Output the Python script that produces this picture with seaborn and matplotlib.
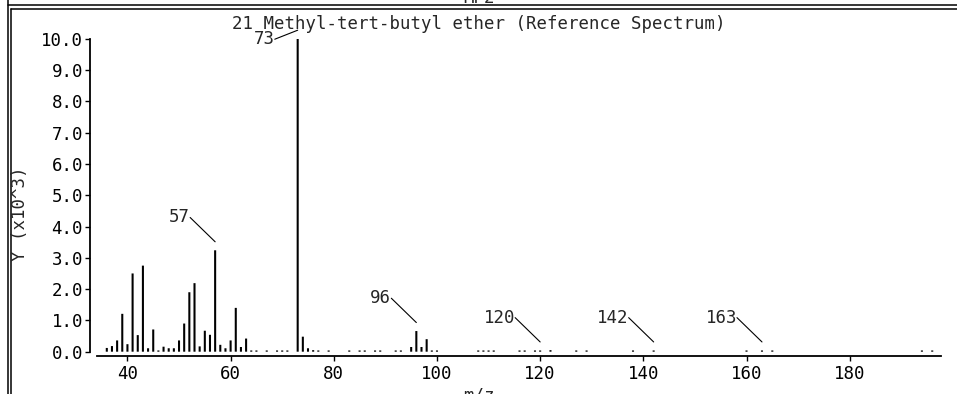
import matplotlib
matplotlib.use('Agg')
import matplotlib.pyplot as plt
import matplotlib.transforms as mtransforms
from matplotlib.lines import Line2D
from matplotlib.ticker import FormatStrFormatter
import pandas as pd
import seaborn as sns

# Spectrum peaks (intensity in units of 10^3)
mz = [36, 37, 38, 39, 40, 41, 42, 43, 44, 45, 46, 47, 48, 49, 50,
      51, 52, 53, 54, 55, 56, 57, 58, 59, 60, 61, 62, 63, 64, 65,
      67, 69, 70, 71, 73, 74, 75, 76, 77, 79, 83, 85, 86, 88, 89,
      92, 93, 95, 96, 97, 98, 99, 100, 108, 109, 110, 111, 116, 117,
      119, 120, 122, 127, 129, 138, 142, 160, 163, 165, 194, 196]
intensity = [0.12, 0.18, 0.36, 1.21, 0.24, 2.50, 0.53, 2.75, 0.11, 0.71,
             0.04, 0.16, 0.11, 0.11, 0.36, 0.90, 1.90, 2.19, 0.17, 0.67,
             0.54, 3.24, 0.22, 0.11, 0.36, 1.40, 0.15, 0.42, 0.04, 0.04,
             0.04, 0.04, 0.04, 0.04, 10.0, 0.48, 0.11, 0.05, 0.04, 0.04,
             0.04, 0.04, 0.04, 0.04, 0.04, 0.04, 0.04, 0.15, 0.66, 0.15,
             0.40, 0.04, 0.04, 0.04, 0.04, 0.04, 0.04, 0.04, 0.04, 0.04,
             0.04, 0.05, 0.04, 0.04, 0.04, 0.04, 0.04, 0.04, 0.04, 0.04,
             0.04]
labelled_peaks = [57, 73, 96, 120, 142, 163]
x_ticks = [40, 60, 80, 100, 120, 140, 160, 180]
y_ticks = [0, 1, 2, 3, 4, 5, 6, 7, 8, 9, 10]
title = "21 Methyl-tert-butyl ether (Reference Spectrum)"
header = "MP2"

W, H = 957, 394

sns.set_theme(style='ticks')
plt.rcParams['font.family'] = ['DejaVu Sans Mono']
plt.rcParams['font.size'] = 12.5

fig = plt.figure(figsize=(W / 100, H / 100), dpi=100)
fig.patch.set_facecolor('white')
ax = fig.add_axes([97 / W, 42.3 / H, 844 / W, 313 / H])
ax.set_facecolor('white')

spec = pd.DataFrame({'mz': mz, 'intensity': intensity})
sns.barplot(data=spec, x='mz', y='intensity', native_scale=True, width=0.4,
            color='black', saturation=1, errorbar=None, linewidth=0, ax=ax)
# no pixel snapping, so all sticks come out the same width
for bar in ax.patches:
    bar.set_snap(False)

ax.set_xlim(34.1, 197.7)
ax.set_ylim(0, 10)
ax.set_xticks(x_ticks)
ax.set_yticks(y_ticks)
ax.yaxis.set_major_formatter(FormatStrFormatter('%.1f'))
ax.set_xlabel('')
ax.set_ylabel('')
ax.grid(False)

sns.despine(ax=ax, offset={'left': 5, 'bottom': 3})
ax.spines['left'].set_bounds(0, 10)
for side in ['left', 'bottom']:
    ax.spines[side].set_linewidth(1.3)
    ax.spines[side].set_color('black')
ax.tick_params(axis='both', direction='out', length=3.5, width=1.0,
               color='black', labelcolor='black', labelsize=12.5)
ax.tick_params(axis='y', pad=1.5)
ax.tick_params(axis='x', pad=3)

# peak labels with leader lines ending a little above the peak top
lift = mtransforms.ScaledTranslation(0, 8.5 / 100, fig.dpi_scale_trans)
for peak in labelled_peaks:
    val = intensity[mz.index(peak)]
    offset = (-16.5, -6.5) if val >= 9.5 else (-18, 17.5)
    ax.annotate(str(peak), xy=(peak, val), xycoords=ax.transData + lift,
                xytext=offset, textcoords='offset points',
                ha='right', va='center', fontsize=12.5,
                annotation_clip=False,
                arrowprops=dict(arrowstyle='-', color='black', lw=0.8,
                                shrinkA=0, shrinkB=0, patchA=None,
                                relpos=(1, 0.5)))

# titles and axis captions
fig.text(0.5, 1 - 24 / H, title, ha='center', va='center', fontsize=12.5)
fig.text(20 / W, 1 - 214 / H, 'Y (x10^3)', rotation=90, ha='center',
         va='center', fontsize=12.5)
fig.text(0.5, 1 - 386 / H, 'm/z', ha='center', va='top', fontsize=12.5)
fig.text(0.5, 1 - 3 / H, header, ha='center', va='baseline', fontsize=12.5)


def frame_line(x0, y0, x1, y1):
    fig.add_artist(Line2D([x0 / W, x1 / W], [1 - y0 / H, 1 - y1 / H],
                          transform=fig.transFigure, color='black', lw=1.1))


# window frame around the plot
frame_line(8, 5, W, 5)
frame_line(11, 9, W, 9)
frame_line(8, 0, 8, H)
frame_line(11, 9, 11, H)

fig.savefig('out.png', dpi=100)
